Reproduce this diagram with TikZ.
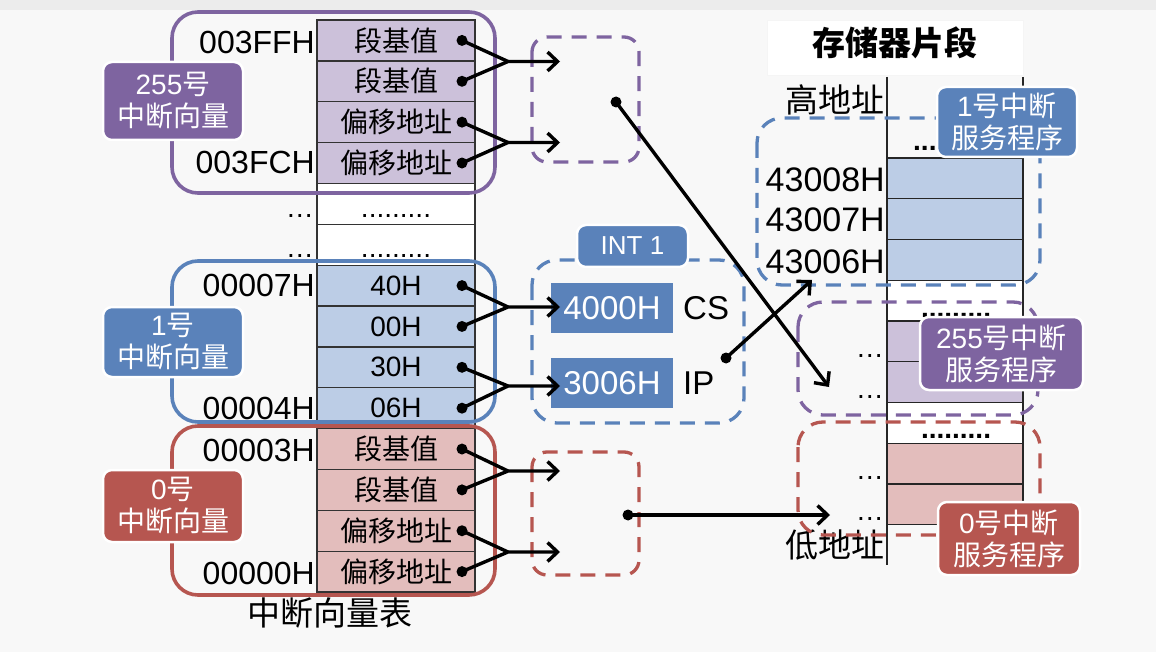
\documentclass[tikz,border=0pt]{standalone}
\usepackage{fontspec}
\setmainfont{Liberation Sans}
\newfontfamily\cjk{Noto Sans CJK SC}
\usetikzlibrary{arrows.meta}
\definecolor{bgc}{HTML}{F8F8F8}
\definecolor{topc}{HTML}{ECECEC}
\definecolor{pdark}{HTML}{7E64A0}
\definecolor{pcell}{HTML}{CCC1DA}
\definecolor{bdark}{HTML}{5A82BA}
\definecolor{bcell}{HTML}{BCCDE6}
\definecolor{rdark}{HTML}{B65650}
\definecolor{rcell}{HTML}{E3BDBC}
\newcommand\zh[1]{{\cjk #1}}
\newcommand\myfs[1]{\fontsize{#1}{#1}\selectfont}
\tikzset{
  cell/.style={rectangle,draw=black!80,line width=1.3pt,minimum width=158pt,minimum height=40.86pt,inner sep=0pt,font=\myfs{28}},
  mcell/.style={rectangle,draw=black!85,line width=1.3pt,minimum width=136pt,minimum height=40.75pt,inner sep=0pt},
  dotn/.style={circle,fill=black,inner sep=0pt,minimum size=11pt},
  conn/.style={line width=3.4pt,black,line join=miter},
  arr/.style={conn,-{Straight Barb[length=10pt,width=19pt]}},
  grp/.style={line width=3.6pt,rounded corners=26pt},
  dgrp/.style={line width=3.3pt,dash pattern=on 15pt off 10pt},
  lab/.style={rounded corners=9pt,draw=white,line width=2.5pt,text=white,align=center,inner sep=0pt,font=\fontsize{28}{32}\selectfont},
  addr/.style={anchor=east,inner sep=0pt,font=\myfs{32}},
  raddr/.style={anchor=east,inner sep=0pt,font=\myfs{34}},
  ellip/.style={anchor=base east,inner sep=0pt,font=\myfs{28}},
  dotrow/.style={anchor=base,inner sep=0pt,font=\bfseries\myfs{28}}
}
\begin{document}
\begin{tikzpicture}[x=1pt,y=-1pt]
\useasboundingbox (0,0) rectangle (1156,652);
\fill[bgc] (0,0) rectangle (1156,652);
\fill[topc] (0,0) rectangle (1156,10);
\filldraw[fill=white,draw=gray!8,line width=0.6pt] (767,20) rectangle (1023,75);

% interrupt vector table
\foreach \i/\t/\c in {0/{\zh{段基值}}/pcell,1/{\zh{段基值}}/pcell,2/{\zh{偏移地址}}/pcell,3/{\zh{偏移地址}}/pcell,
  4/{}/white,5/{}/white,6/{40H}/bcell,7/{00H}/bcell,8/{30H}/bcell,9/{06H}/bcell,
  10/{\zh{段基值}}/rcell,11/{\zh{段基值}}/rcell,12/{\zh{偏移地址}}/rcell,13/{\zh{偏移地址}}/rcell}
  \node[cell,fill=\c] (c\i) at (396,{20+40.86*(\i+0.5)}) {\t};

% memory segment
\foreach \k/\c in {0/bcell,1/bcell,2/bcell,3/white,4/pcell,5/pcell,6/white,7/rcell,8/rcell}
  \node[mcell,fill=\c] (m\k) at (955,{158+40.75*(\k+0.5)}) {};
\draw[black!85,line width=1.3pt] (887,77) -- (887,565);
\draw[black!85,line width=1.3pt] (1023,77) -- (1023,565);

% texts
\node[font=\bfseries\myfs{33}] (title) at (895,43) {\zh{存储器片段}};
\node[font=\myfs{33}] (tbl) at (330,613) {\zh{中断向量表}};
\node[addr] (a1) at (315,42) {003FFH};
\node[addr] (a2) at (315,162) {003FCH};
\node[addr] (a3) at (315,285) {00007H};
\node[addr] (a4) at (315,408) {00004H};
\node[addr] (a5) at (315,450) {00003H};
\node[addr] (a6) at (315,573) {00000H};
\node[ellip] (e1) at (314,218) {…};
\node[ellip] (e2) at (314,258) {…};
\node[dotrow,font=\myfs{28}] (f1) at (396,218) {.........};
\node[dotrow,font=\myfs{28}] (f2) at (396,258) {.........};

\node[raddr,font=\myfs{33}] (hi) at (885,100) {\zh{高地址}};
\node[raddr,font=\myfs{33}] (lo) at (885,545) {\zh{低地址}};
\node[raddr] (r1) at (885,180) {43008H};
\node[raddr] (r2) at (885,220) {43007H};
\node[raddr] (r3) at (885,262) {43006H};
\node[dotrow,anchor=base west] (g0) at (913,151) {...};
\node[dotrow] (g1) at (956,317) {.........};
\node[dotrow] (g2) at (956,438) {.........};
\node[ellip] (h1) at (884,357) {…};
\node[ellip] (h2) at (884,398) {…};
\node[ellip] (h3) at (884,479) {…};
\node[ellip] (h4) at (884,520) {…};

% group outlines
\draw[grp,pdark] (172,12) rectangle (495,193);
\draw[grp,bdark] (172,261) rectangle (495,422);
\draw[grp,rdark] (172,426) rectangle (495,595);

\draw[dgrp,pdark,rounded corners=15pt] (532,37) rectangle (639,162);
\draw[dgrp,rdark,rounded corners=15pt] (532,452) rectangle (639,575);
\draw[dgrp,bdark,rounded corners=25pt] (532,260) rectangle (744,423);
\draw[dgrp,bdark,rounded corners=25pt] (757,118) rectangle (1040,285);
\draw[dgrp,pdark,rounded corners=25pt] (798,302) rectangle (1038,415);
\draw[dgrp,rdark,rounded corners=25pt] (798,422) rectangle (1040,535);

% CS / IP
\node[fill=bdark,text=white,minimum width=122pt,minimum height=50pt,inner sep=0pt,font=\myfs{33}] (csv) at (612,308) {4000H};
\node[fill=bdark,text=white,minimum width=122pt,minimum height=50pt,inner sep=0pt,font=\myfs{33}] (ipv) at (612,383) {3006H};
\node[anchor=west,inner sep=0pt,font=\myfs{33}] (cs) at (683,308) {CS};
\node[anchor=west,inner sep=0pt,font=\myfs{33}] (ip) at (683,383) {IP};

% labels
\node[lab,fill=pdark,minimum width=140pt,minimum height=78pt] (lp) at (173,101) {255\zh{号}\\\zh{中断向量}};
\node[lab,fill=bdark,minimum width=140pt,minimum height=70pt] (lb) at (173,342) {1\zh{号}\\\zh{中断向量}};
\node[lab,fill=rdark,minimum width=140pt,minimum height=72pt] (lr) at (173,506) {0\zh{号}\\\zh{中断向量}};
\node[lab,fill=bdark,minimum width=140pt,minimum height=70pt] (rb) at (1007,122) {1\zh{号中断}\\\zh{服务程序}};
\node[lab,fill=pdark,minimum width=163pt,minimum height=73pt] (rp) at (1001.5,353.5) {255\zh{号中断}\\\zh{服务程序}};
\node[lab,fill=rdark,minimum width=142pt,minimum height=73pt] (rr) at (1009,538.5) {0\zh{号中断}\\\zh{服务程序}};
\node[lab,fill=bdark,minimum width=111pt,minimum height=42pt,font=\myfs{26}] (int) at (632.5,246) {INT 1};

% dots in cells
\foreach \i in {0,1,2,3,6,7,8,9,10,11,12,13}
  \node[dotn] (d\i) at (462,{20+40.86*(\i+0.5)}) {};
\node[dotn] (pd) at (616,102) {};
\node[dotn] (rd) at (628,515) {};
\node[dotn] (bd) at (726,358) {};

% junctions and ends
\coordinate (jP1) at (508,61.5);  \coordinate (tP1) at (560,61.5);
\coordinate (jP2) at (508,142.5); \coordinate (tP2) at (560,142.5);
\coordinate (jB1) at (508,307);   \coordinate (tB1) at (560,307);
\coordinate (jB2) at (508,386);   \coordinate (tB2) at (560,386);
\coordinate (jR1) at (508,471);   \coordinate (tR1) at (560,471);
\coordinate (jR2) at (508,552);   \coordinate (tR2) at (560,552);
\coordinate (pEnd) at (829,387);
\coordinate (rEnd) at (830,515);
\coordinate (bEnd) at (812,280);

\draw[conn] (d0.center) -- (jP1);  \draw[arr] (d1.center) -- (jP1) -- (tP1);
\draw[conn] (d2.center) -- (jP2);  \draw[arr] (d3.center) -- (jP2) -- (tP2);
\draw[conn] (d6.center) -- (jB1);  \draw[arr] (d7.center) -- (jB1) -- (tB1);
\draw[conn] (d8.center) -- (jB2);  \draw[arr] (d9.center) -- (jB2) -- (tB2);
\draw[conn] (d10.center) -- (jR1); \draw[arr] (d11.center) -- (jR1) -- (tR1);
\draw[conn] (d12.center) -- (jR2); \draw[arr] (d13.center) -- (jR2) -- (tR2);
\draw[arr] (pd.center) -- (pEnd);
\draw[arr] (rd.center) -- (rEnd);
\draw[arr] (bd.center) -- (bEnd);
\end{tikzpicture}
\end{document}
